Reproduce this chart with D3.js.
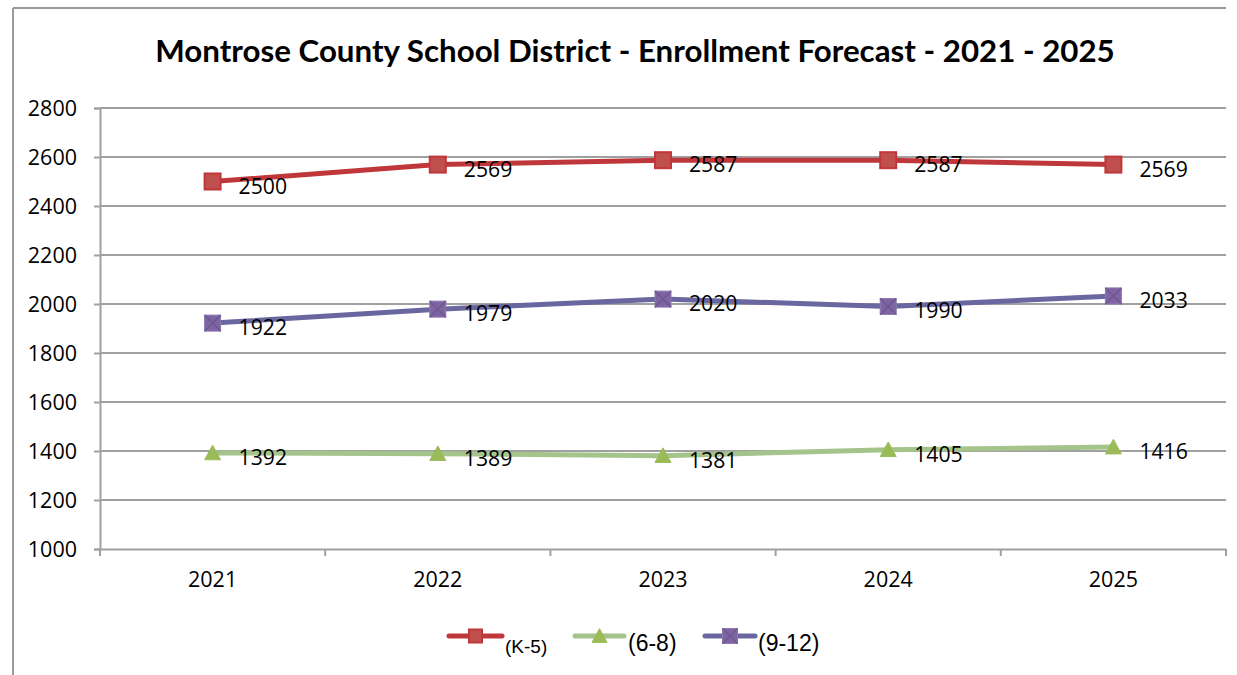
<!DOCTYPE html>
<html><head><meta charset="utf-8">
<script src="https://cdn.jsdelivr.net/npm/d3@7"></script>
<style>html,body{margin:0;padding:0;background:#fff;}svg{display:block;}</style>
</head><body>
<svg id="chart" width="1237" height="675"></svg>
<script>
const title = "Montrose County School District - Enrollment Forecast - 2021  - 2025";
const years = ["2021","2022","2023","2024","2025"];
const k5 = [2500, 2569, 2587, 2587, 2569];
const g68 = [1392, 1389, 1381, 1405, 1416];
const g912 = [1922, 1979, 2020, 1990, 2033];
const yTicks = [1000,1200,1400,1600,1800,2000,2200,2400,2600,2800];
const seriesNames = ["(K-5)", "(6-8)", "(9-12)"];

const series = [
  {name: seriesNames[0], values: k5, line: "#C0373B", fill: "#C0504D", stroke: "#C0373B", marker: "square"},
  {name: seriesNames[1], values: g68, line: "#A5C48C", fill: "#9BBB59", stroke: "#9BBB59", marker: "triangle"},
  {name: seriesNames[2], values: g912, line: "#6966A0", fill: "#8064A2", stroke: "#6A5A93", marker: "x"}
];

const svg = d3.select("#chart");
const NUM_FONT = "'Open Sans', Lato, sans-serif";
const TITLE_FONT = "Lato, 'Open Sans', sans-serif";
const axisSize = 21.5;
const labelSize = 21.2;

// outer frame (top + left)
svg.append("line").attr("x1",13).attr("x2",1226).attr("y1",8).attr("y2",8).attr("stroke","#9a9a9a").attr("stroke-width",2);
svg.append("line").attr("x1",13).attr("x2",13).attr("y1",8).attr("y2",675).attr("stroke","#9a9a9a").attr("stroke-width",2);

// title
const t = svg.append("text").attr("x",635).attr("y",62).attr("text-anchor","middle")
  .attr("font-family",TITLE_FONT).attr("font-weight","bold").attr("font-size",30).attr("fill","#000").text(title);
const tw = t.node().getComputedTextLength();
t.attr("font-size", 30*960/tw);

const x = d3.scaleBand().domain(years).range([100,1226]);
const y = d3.scaleLinear().domain([1000,2800]).range([549,108]);

// gridlines
svg.append("g").selectAll("line").data(yTicks.filter(v=>v>1000)).join("line")
  .attr("x1",100).attr("x2",1226).attr("y1",d=>y(d)).attr("y2",d=>y(d))
  .attr("stroke","#a0a0a0").attr("stroke-width",2);

// y axis
const yAxis = svg.append("g").attr("transform","translate(100,0)")
  .call(d3.axisLeft(y).tickValues(yTicks).tickSize(6).tickPadding(17).tickFormat(d3.format("d")));
yAxis.select(".domain").attr("stroke","#a0a0a0").attr("stroke-width",2);
yAxis.selectAll(".tick line").attr("stroke","#a0a0a0").attr("stroke-width",2);
yAxis.selectAll("text").attr("font-family",NUM_FONT).attr("font-size",axisSize).attr("fill","#000").attr("dy","0.35em");

// x axis
const xAxis = svg.append("g").attr("transform","translate(0,549)")
  .call(d3.axisBottom(x).tickSize(0).tickPadding(23));
xAxis.select(".domain").attr("stroke","#a0a0a0").attr("stroke-width",2);
xAxis.selectAll("text").attr("font-family",NUM_FONT).attr("font-size",axisSize).attr("fill","#000");
// boundary ticks
const bounds = years.map(d=>x(d)).concat([x(years[years.length-1])+x.bandwidth()]);
svg.append("g").selectAll("line").data(bounds).join("line")
  .attr("x1",d=>d).attr("x2",d=>d).attr("y1",549).attr("y2",556)
  .attr("stroke","#a0a0a0").attr("stroke-width",2);

const cx = d => x(d) + x.bandwidth()/2;

function drawMarker(g, type, px, py, s, fill, stroke) {
  if (type === "square") {
    g.append("rect").attr("x",px-s/2).attr("y",py-s/2).attr("width",s).attr("height",s)
      .attr("fill",fill).attr("stroke",stroke).attr("stroke-width",2);
  } else if (type === "triangle") {
    const h = s*0.85;
    g.append("path").attr("d",`M${px},${py-h/2-1}L${px+s/2},${py+h/2}L${px-s/2},${py+h/2}Z`)
      .attr("fill",fill).attr("stroke",fill).attr("stroke-width",1);
  } else {
    g.append("rect").attr("x",px-s/2).attr("y",py-s/2).attr("width",s).attr("height",s)
      .attr("fill",fill).attr("stroke","#8a7ab0").attr("stroke-width",1);
    g.append("path").attr("d",`M${px-s/2},${py-s/2}L${px+s/2},${py+s/2}M${px+s/2},${py-s/2}L${px-s/2},${py+s/2}`)
      .attr("stroke",stroke).attr("stroke-width",1.5);
  }
}

const line = d3.line().x((d,i)=>cx(years[i])).y(d=>y(d));
series.forEach(s=>{
  svg.append("path").datum(s.values).attr("d",line).attr("fill","none")
    .attr("stroke",s.line).attr("stroke-width",5).attr("stroke-linejoin","round");
});
series.forEach(s=>{
  const g = svg.append("g");
  s.values.forEach((v,i)=>drawMarker(g, s.marker, cx(years[i]), y(v), 16, s.fill, s.stroke));
});
// data labels
series.forEach(s=>{
  svg.append("g").selectAll("text").data(s.values).join("text")
    .attr("x",(d,i)=>cx(years[i])+26).attr("y",d=>y(d)+12)
    .attr("font-family",NUM_FONT).attr("font-size",labelSize).attr("fill","#000")
    .text(d=>d);
});

// legend
const LEG_FONT = "'Liberation Sans', Arial, sans-serif";
const legend = [
  {x1:449, x2:502, tx:505, fs:19, s:series[0], ms:13},
  {x1:575, x2:624, tx:628, fs:23, s:series[1], ms:15},
  {x1:705, x2:755, tx:758, fs:23, s:series[2], ms:15}
];
legend.forEach(l=>{
  const g = svg.append("g");
  g.append("line").attr("x1",l.x1).attr("x2",l.x2).attr("y1",636).attr("y2",636)
    .attr("stroke",l.s.line).attr("stroke-width",5).attr("stroke-linecap","round");
  drawMarker(g, l.s.marker, (l.x1+l.x2)/2, 636, l.ms, l.s.fill, l.s.stroke);
  g.append("text").attr("x",l.tx).attr("y",l.fs===19?653:651).attr("font-family",LEG_FONT)
    .attr("font-size",l.fs).attr("fill","#000").text(l.s.name);
});
</script>
</body></html>
